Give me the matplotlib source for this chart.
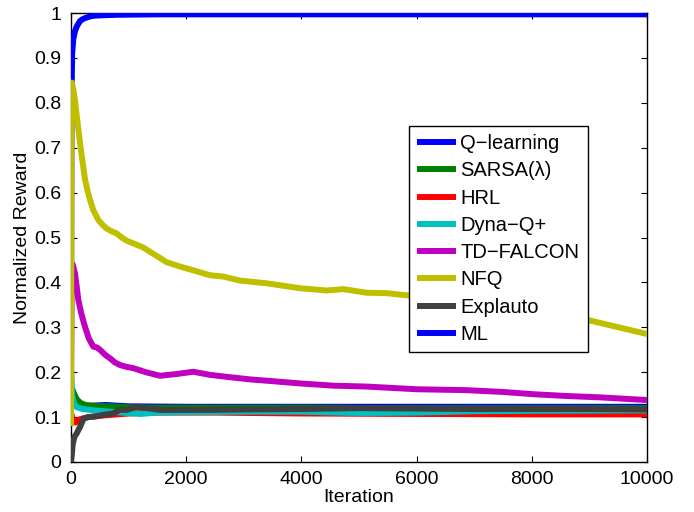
import matplotlib
matplotlib.use("Agg")
import matplotlib.pyplot as plt

plt.rcParams['font.family'] = ['Liberation Sans', 'DejaVu Sans']

# reward curves, sampled by iteration
q_iter = [0, 5, 10, 20, 40, 70, 100, 156, 200, 250, 320, 400, 550, 800, 1500, 10000]
q_val = [0.08, 0.6, 0.82, 0.91, 0.942, 0.96, 0.97, 0.982, 0.986, 0.989, 0.992, 0.994, 0.995, 0.996, 0.997, 0.997]

sarsa_iter = [0, 30, 60, 100, 160, 250, 400, 700, 1000, 1500, 2500, 4000, 6000, 8000, 10000]
sarsa_val = [0.16, 0.16, 0.15, 0.14, 0.132, 0.127, 0.125, 0.124, 0.122, 0.121, 0.121, 0.121, 0.12, 0.12, 0.12]

hrl_iter = [0, 30, 80, 150, 300, 600, 1000, 1500, 2500, 4000, 6000, 8000, 10000]
hrl_val = [0.11, 0.095, 0.088, 0.095, 0.1, 0.104, 0.108, 0.11, 0.11, 0.108, 0.107, 0.106, 0.106]

dyna_iter = [0, 20, 50, 100, 200, 400, 700, 1000, 1200, 1500, 2000, 3000, 4000, 5000, 6000, 7000, 8000, 10000]
dyna_val = [0.21, 0.15, 0.13, 0.122, 0.118, 0.115, 0.112, 0.109, 0.107, 0.11, 0.111, 0.112, 0.112, 0.109, 0.11, 0.113, 0.114, 0.115]

tdf_iter = [0, 10, 30, 69, 100, 127, 180, 243, 310, 387, 450, 503, 600, 677, 760, 851, 960, 1082, 1300, 1545, 1835, 2123, 2413,
            2750, 3107, 3500, 3975, 4554, 5133, 6001, 6869, 7500, 8026, 8600, 9183, 10000]
tdf_val = [0.15, 0.43, 0.44, 0.42, 0.39, 0.361, 0.33, 0.301, 0.275, 0.257, 0.255, 0.25, 0.238, 0.231, 0.222, 0.216, 0.212, 0.209, 0.2, 0.192,
           0.196, 0.201, 0.194, 0.189, 0.184, 0.18, 0.175, 0.17, 0.168, 0.162, 0.16, 0.156, 0.151, 0.147, 0.144, 0.138]

nfq_iter = [0, 8, 15, 40, 69, 99, 127, 156, 185, 214, 243, 285, 330, 387, 474, 550, 619, 700, 793, 880, 967, 1100, 1250, 1450, 1661,
            1900, 2118, 2413, 2644, 2934, 3397, 3975, 4439, 4727, 5133, 5480, 5769, 6500, 7200, 8000, 8500, 8980, 9474, 10000]
nfq_val = [0.08, 0.84, 0.845, 0.83, 0.806, 0.772, 0.742, 0.712, 0.683, 0.656, 0.63, 0.605, 0.584, 0.561, 0.539, 0.528, 0.52, 0.514, 0.509,
           0.5, 0.493, 0.486, 0.478, 0.462, 0.445, 0.435, 0.427, 0.416, 0.413, 0.404, 0.398, 0.387, 0.382, 0.385, 0.377, 0.376, 0.372,
           0.362, 0.352, 0.338, 0.328, 0.316, 0.301, 0.285]

expl_iter = [0, 10, 30, 60, 100, 160, 220, 300, 400, 560, 730, 850, 970, 1140, 1310, 1550, 1830, 2300, 3000, 4000, 5000, 6000, 7000, 8000, 9000, 10000]
expl_val = [0.0, 0.01, 0.04, 0.056, 0.064, 0.079, 0.097, 0.1, 0.101, 0.105, 0.108, 0.116, 0.116, 0.123, 0.12, 0.116, 0.116, 0.116, 0.117, 0.118, 0.12, 0.119, 0.118, 0.118, 0.118, 0.117]

ml_iter = [0, 50, 150, 300, 600, 1000, 2000, 4000, 6000, 8000, 10000]
ml_val = [0.14, 0.135, 0.128, 0.125, 0.127, 0.124, 0.123, 0.123, 0.123, 0.123, 0.123]

series = [
    ('Q\u2212learning', q_iter, q_val, (0, 0, 1), 3),
    ('SARSA(\u03bb)', sarsa_iter, sarsa_val, (0, 0.5, 0), 3),
    ('HRL', hrl_iter, hrl_val, (1, 0, 0), 3),
    ('Dyna\u2212Q+', dyna_iter, dyna_val, (0, 0.75, 0.75), 3),
    ('TD\u2212FALCON', tdf_iter, tdf_val, (0.75, 0, 0.75), 3),
    ('NFQ', nfq_iter, nfq_val, (0.75, 0.75, 0), 3),
    ('Explauto', expl_iter, expl_val, (0.25, 0.25, 0.25), 4),
    ('ML', ml_iter, ml_val, (0, 0, 1), 2),
]

fig = plt.figure(figsize=(6.94, 5.12), dpi=100)
ax = fig.add_axes([71 / 694, 50 / 512, 576 / 694, 449 / 512])

for name, xs, ys, col, z in series:
    ax.plot(xs, ys, color=col, linewidth=4.3, label=name, zorder=z,
            solid_joinstyle='round', solid_capstyle='butt')

ax.set_xlim(0, 10000)
ax.set_ylim(0, 1)
ax.set_xticks(range(0, 10001, 2000))
ax.set_yticks([i / 10 for i in range(11)])
ax.set_yticklabels(['0'] + ['%.1f' % (i / 10) for i in range(1, 10)] + ['1'])
ax.tick_params(direction='in', top=True, right=True, length=4.5, width=0.8,
               labelsize=14)
ax.tick_params(axis='x', pad=6.5)
ax.tick_params(axis='y', pad=7)
for sp in ax.spines.values():
    sp.set_linewidth(1)
ax.set_xlabel('Iteration', fontsize=14, labelpad=1)
ax.set_ylabel('Normalized Reward', fontsize=14, labelpad=2)

leg = ax.legend(loc='upper left', bbox_to_anchor=(0.587, 0.748), borderaxespad=0,
                fontsize=14.5, frameon=True, fancybox=False, edgecolor='black',
                framealpha=1, handlelength=1.95, handletextpad=0.2,
                labelspacing=0.41, borderpad=0.4)
leg.get_frame().set_linewidth(1)
for h in leg.get_lines():
    h.set_linewidth(4.3)
leg.set_zorder(10)

fig.savefig('out.png', dpi=100)
